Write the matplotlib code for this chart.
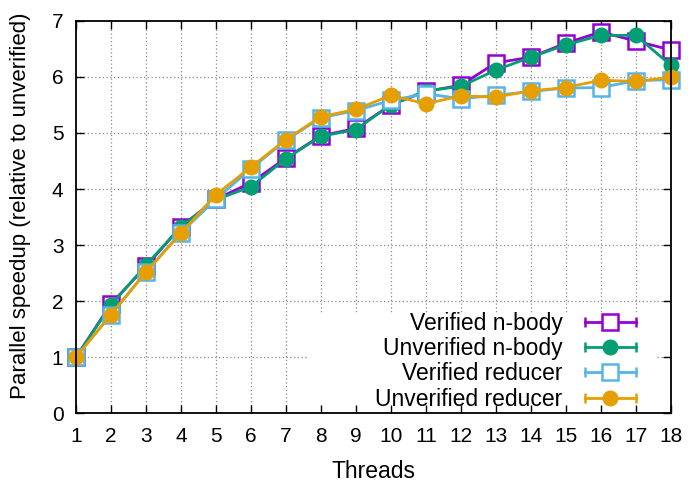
import matplotlib
matplotlib.use("Agg")
import matplotlib.pyplot as plt
from matplotlib.lines import Line2D
from matplotlib.patches import Rectangle
from matplotlib.legend_handler import HandlerLine2D, HandlerTuple

plt.rcParams['font.family'] = ['Liberation Sans', 'DejaVu Sans']

threads = list(range(1, 19))

verified_nbody = [1.00, 1.95, 2.62, 3.33, 3.82, 4.11, 4.55, 4.95, 5.08, 5.50,
                  5.74, 5.85, 6.25, 6.35, 6.60, 6.80, 6.64, 6.48]
unverified_nbody = [1.00, 1.93, 2.64, 3.33, 3.81, 4.04, 4.54, 4.94, 5.06, 5.50,
                    5.75, 5.83, 6.12, 6.35, 6.57, 6.74, 6.74, 6.21]
verified_reducer = [1.00, 1.76, 2.52, 3.22, 3.82, 4.36, 4.87, 5.27, 5.40, 5.58,
                    5.70, 5.61, 5.67, 5.74, 5.80, 5.81, 5.93, 5.95]
unverified_reducer = [1.00, 1.76, 2.52, 3.21, 3.90, 4.39, 4.88, 5.29, 5.42, 5.67,
                      5.52, 5.66, 5.64, 5.75, 5.81, 5.94, 5.92, 5.99]

labels = ["Verified n-body", "Unverified n-body", "Verified reducer", "Unverified reducer"]
colors = ["#9400D3", "#009E73", "#56B4E9", "#E69F00"]
markers = ["s", "o", "s", "o"]
yticks = list(range(0, 8))

fig = plt.figure(figsize=(6.9, 4.83), dpi=100)
ax = fig.add_axes([0.110, 0.144, 0.862, 0.813])

# gnuplot-style grid (drawn by hand so the key box can hide it but not the ticks)
for x in threads[1:-1]:
    ax.axvline(x, color="#888888", ls=(0, (1, 2)), lw=0.9, zorder=1)
for y in yticks[1:-1]:
    ax.axhline(y, color="#888888", ls=(0, (1, 2)), lw=0.9, zorder=1)
ax.add_patch(Rectangle((0.39, 0.0), 0.586, 0.257, transform=ax.transAxes,
                       facecolor="white", edgecolor="none", zorder=1.2))

series = [verified_nbody, unverified_nbody, verified_reducer, unverified_reducer]
handles = []
hmap = {}
for vals, lab, c, m in zip(series, labels, colors, markers):
    filled = m == "o"
    style = dict(marker=m, markersize=11.5 if filled else 12,
                 markerfacecolor=c if filled else "white",
                 markeredgecolor=c, markeredgewidth=0 if filled else 1.8)
    ax.plot(threads, vals, color=c, lw=2.0, clip_on=False, zorder=3, **style)
    caps = Line2D([], [], color=c, lw=2.0, marker="|", markersize=7, markeredgewidth=1.8)
    mk = Line2D([], [], color=c, ls="none", **style)
    hmap[caps] = HandlerLine2D(numpoints=2)
    handles.append((caps, mk))

hmap[tuple] = HandlerTuple(ndivide=1, pad=0)

ax.set_xlim(1, 18)
ax.set_ylim(0, 7)
ax.set_xticks(threads)
ax.set_yticks(yticks)
ax.set_axisbelow(False)
ax.tick_params(direction="in", length=6, width=1, labelsize=15,
               top=True, right=True)
ax.tick_params(axis="x", pad=10)
ax.tick_params(axis="y", pad=9)
for s in ax.spines.values():
    s.set_linewidth(1.3)
    s.set_zorder(4)

ax.set_xlabel("Threads", fontsize=16.5, labelpad=10)
ax.set_ylabel("Parallel speedup (relative to unverified)", fontsize=16)
ax.yaxis.set_label_coords(-0.075, 0.53)

leg = ax.legend(handles, labels, handler_map=hmap, loc="lower right",
                bbox_to_anchor=(0.953, 0.007), borderaxespad=0, markerfirst=False,
                fontsize=16.5, handlelength=2.84, handletextpad=0.65,
                labelspacing=0.1, borderpad=0.0, frameon=False)
leg.set_zorder(2)
for t in leg.get_texts():
    t.set_ha("right")
leg._legend_box.align = "right"

fig.savefig("out.png", dpi=100)
